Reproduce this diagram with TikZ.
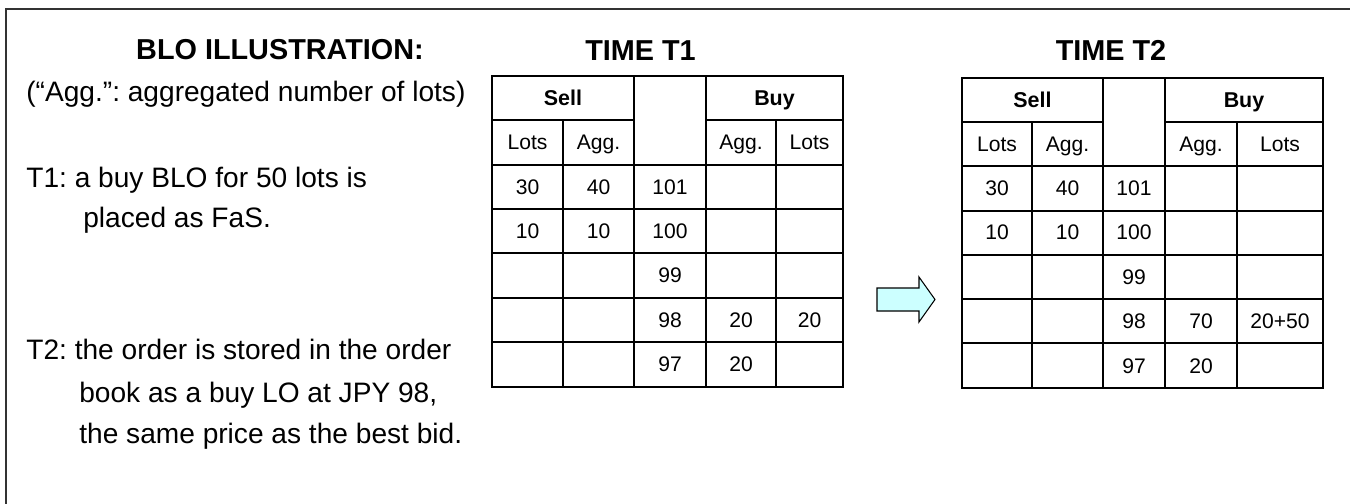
\documentclass[tikz,border=0pt]{standalone}
\usepackage{fontspec}
\setmainfont{Liberation Sans}
\frenchspacing
\definecolor{celeste}{RGB}{204,255,255}
\tikzset{booktxt/.style={font=\fontsize{12}{14}\selectfont, inner sep=0pt, anchor=base},
  bookhead/.style={font=\fontsize{12.2}{14}\selectfont\bfseries, inner sep=0pt, anchor=base},
  titletxt/.style={font=\fontsize{16.4}{19}\selectfont\bfseries, inner sep=0pt, anchor=base},
  notetxt/.style={font=\fontsize{16}{19}\selectfont, inner sep=0pt, anchor=base west},
  gridline/.style={line width=1.1pt}}

\begin{document}
\begin{tikzpicture}[x=0.02cm,y=-0.02cm]
		 \useasboundingbox (0,0) rectangle (1350,504);
		 \draw[line width=1.2pt, black!80] (6,504) -- (6,9) -- (1350,9);

		 % titles and notes
		 \node[titletxt] (blo) at (280,59) {BLO ILLUSTRATION:};
		 \node[titletxt] (timea) at (640.5,60) {TIME T1};
		 \node[titletxt] (timeb) at (1111,60) {TIME T2};
		 \node[notetxt] (agg) at (26,101) {(“Agg.”: aggregated number of lots)};
		 \node[notetxt] (notea) at (26,187) {T1: a buy BLO for 50 lots is};
		 \node[notetxt] (noteaa) at (83,227) {placed as FaS.};
		 \node[notetxt] (noteb) at (26,359) {T2: the order is stored in the order};
		 \node[notetxt] (notebb) at (79,402) {book as a buy LO at JPY 98,};
		 \node[notetxt] (notebbb) at (79,443) {the same price as the best bid.};

		 % order book at T1
		 \draw[gridline] (492,76) rectangle (843,387);
		 \foreach \yy in {165,209,253,298,342} \draw[gridline] (492,\yy) -- (843,\yy);
		 \draw[gridline] (492,120) -- (634,120) (706,120) -- (843,120);
		 \draw[gridline] (634,76) -- (634,387) (706,76) -- (706,387);
		 \draw[gridline] (563,120) -- (563,387) (776,120) -- (776,387);
		 \node[bookhead] (asell) at (563,105.5) {Sell};
		 \node[bookhead] (abuy) at (774.5,105.5) {Buy};
		 \node[booktxt] (aslh) at (527.5,149.5) {Lots};
		 \node[booktxt] (asah) at (598.5,149.5) {Agg.};
		 \node[booktxt] (abah) at (741,149.5) {Agg.};
		 \node[booktxt] (ablh) at (809.5,149.5) {Lots};
		 \foreach \pr/\sl/\sa/\ba/\bl [count=\r from 0] in {101/30/40//, 100/10/10//, 99////, 98///20/20, 97///20/}{
		   \pgfmathsetmacro\yy{194+44.4*\r}
		   \node[booktxt] (ap\r) at (670,\yy) {\pr};
		   \node[booktxt] (asl\r) at (527.5,\yy) {\sl};
		   \node[booktxt] (asa\r) at (598.5,\yy) {\sa};
		   \node[booktxt] (aba\r) at (741,\yy) {\ba};
		   \node[booktxt] (abl\r) at (809.5,\yy) {\bl};
		 }

		 % step arrow
		 \draw[line width=0.6pt, fill=celeste] (877,288) -- (919,288) -- (919,277) -- (935,299.5) -- (919,322) -- (919,311) -- (877,311) -- cycle;

		 % order book at T2
		 \draw[gridline] (962,78) rectangle (1323,388);
		 \foreach \yy in {166,211,255,299,343} \draw[gridline] (962,\yy) -- (1323,\yy);
		 \draw[gridline] (962,122) -- (1103,122) (1165,122) -- (1323,122);
		 \draw[gridline] (1103,78) -- (1103,388) (1165,78) -- (1165,388);
		 \draw[gridline] (1032,122) -- (1032,388) (1237,122) -- (1237,388);
		 \node[bookhead] (bsell) at (1032.5,107.5) {Sell};
		 \node[bookhead] (bbuy) at (1244,107.5) {Buy};
		 \node[booktxt] (bslh) at (997,151) {Lots};
		 \node[booktxt] (bsah) at (1067.5,151) {Agg.};
		 \node[booktxt] (bbah) at (1201,151) {Agg.};
		 \node[booktxt] (bblh) at (1280,151) {Lots};
		 \foreach \pr/\sl/\sa/\ba/\bl [count=\r from 0] in {101/30/40//, 100/10/10//, 99////, 98///70/20+50, 97///20/}{
		   \pgfmathsetmacro\yy{195.5+44.4*\r}
		   \node[booktxt] (bp\r) at (1134,\yy) {\pr};
		   \node[booktxt] (bsl\r) at (997,\yy) {\sl};
		   \node[booktxt] (bsa\r) at (1067.5,\yy) {\sa};
		   \node[booktxt] (bba\r) at (1201,\yy) {\ba};
		   \node[booktxt] (bbl\r) at (1280,\yy) {\bl};
		 }
		\end{tikzpicture}
\end{document}
